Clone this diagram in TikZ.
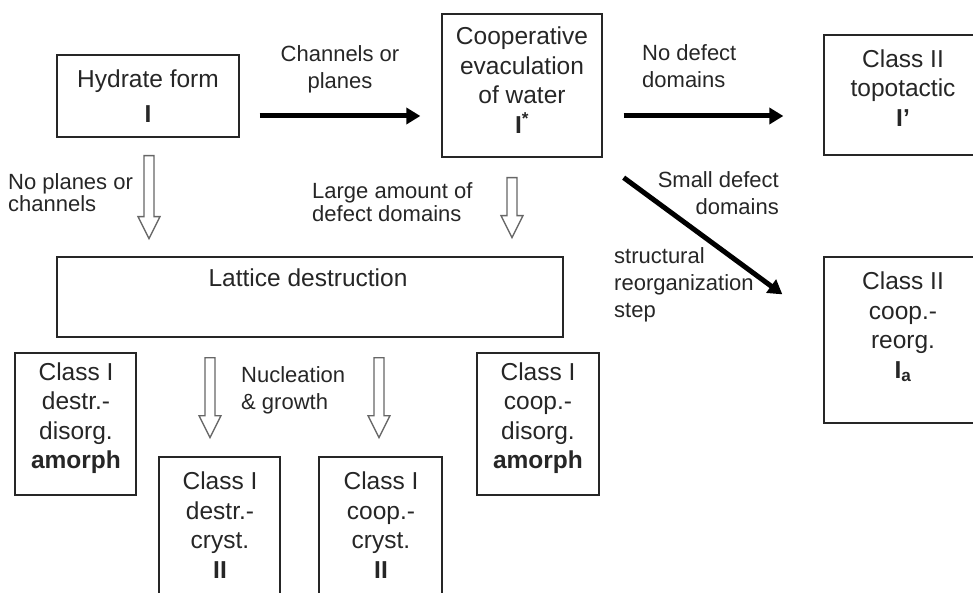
\documentclass[tikz,border=0pt]{standalone}
\usepackage{fontspec}
\setmainfont{Liberation Sans}
\usetikzlibrary{arrows.meta,calc}
\newcommand\hollowdown[2]{\draw[hollowarr] #1 ++(-5,0) -- ++(0,#2-22) -- ++(-6,0) -- ++(11,22) -- ++(11,-22) -- ++(-6,0) -- ++(0,-#2+22) -- cycle;}
\begin{document}
\begin{tikzpicture}[x=1pt,y=-1pt,
  box/.style={draw=black!85, line width=1.3pt, inner sep=0pt},
  boxtext/.style={align=center, inner sep=0pt, font=\fontsize{24.5}{29.5}\selectfont, text=black!85},
  lbl/.style={inner sep=0pt, font=\fontsize{22}{27}\selectfont, text=black!85},
  bigarrow/.style={line width=5pt, -{Triangle[length=14pt,width=16pt]}},
  hollowarr/.style={draw=black!60, fill=white, line width=1.3pt, line join=miter}]
\useasboundingbox (0,0) rectangle (973,593);
% boxes
\node[box, minimum width=182pt, minimum height=82pt] (hyd) at (148,96) {};
\node[box, minimum width=160pt, minimum height=143pt] (coop) at (522,85.5) {};
\node[box, minimum width=158pt, minimum height=120pt] (topo) at (903,95) {};
\node[box, minimum width=158pt, minimum height=166pt] (reorg) at (903,340) {};
\node[box, minimum width=506pt, minimum height=80pt] (latt) at (310,297) {};
\node[box, minimum width=121pt, minimum height=142pt] (dd) at (75.5,424) {};
\node[box, minimum width=122pt, minimum height=142pt] (cd) at (538,424) {};
\node[box, minimum width=121pt, minimum height=153pt] (dc) at (219.5,533.5) {};
\node[box, minimum width=123pt, minimum height=153pt] (cc) at (380.5,533.5) {};
% box texts
\node[boxtext, font=\fontsize{24.5}{35}\selectfont] (hydt) at (148,96) {Hydrate form\\\textbf{I}};
\node[boxtext] (coopt) at (522,80) {Cooperative\\evaculation\\of water\\\textbf{I}\textsuperscript{\textbf{*}}};
\node[boxtext] (topot) at (903,88) {Class II\\topotactic\\\textbf{I'}};
\node[boxtext] (reorgt) at (903,327) {Class II\\coop.-\\reorg.\\\textbf{I}\textsubscript{\textbf{a}}};
\node[boxtext] (lattt) at (308,278) {Lattice destruction};
\node[boxtext] (ddt) at (76,418) {Class I\\destr.-\\disorg.\\\textbf{amorph}};
\node[boxtext] (cdt) at (538,418) {Class I\\coop.-\\disorg.\\\textbf{amorph}};
\node[boxtext] (dct) at (220,525) {Class I\\destr.-\\cryst.\\\textbf{II}};
\node[boxtext] (cct) at (381,525) {Class I\\coop.-\\cryst.\\\textbf{II}};
% labels
\node[lbl, align=center] (l1) at (340,69) {Channels or\\planes};
\node[lbl, align=left, anchor=west] (l2) at (642,66) {No defect\\domains};
\node[lbl, align=right, anchor=east] (l3) at (779,193) {Small defect\\domains};
\node[lbl, align=left, anchor=west] (l4) at (614,285) {structural\\reorganization\\step};
\node[lbl, align=left, anchor=west, font=\fontsize{22}{22}\selectfont] (l5) at (8,193) {No planes or\\channels};
\node[lbl, align=left, anchor=west, font=\fontsize{22}{22.5}\selectfont] (l6) at (312,202) {Large amount of\\defect domains};
\node[lbl, align=left, anchor=west] (l7) at (241,390) {Nucleation\\\& growth};
% thick arrows
\draw[bigarrow] ($(hyd.east|-0,116)+(20,0)$) -- ($(coop.west|-0,116)+(-21,0)$);
\draw[bigarrow] ($(coop.east|-0,116)+(21,0)$) -- ($(topo.west|-0,116)+(-40,0)$);
\draw[bigarrow] ($(coop.south east)+(21,20)$) -- ($(reorg.north west)+(-41,38)$);
% hollow arrows
\hollowdown{($(hyd.south)+(1,18)$)}{83}
\hollowdown{($(coop.south)+(-10,20)$)}{60}
\hollowdown{($(latt.south)+(-100,20)$)}{80}
\hollowdown{($(latt.south)+(69,20)$)}{80}
\end{tikzpicture}
\end{document}
